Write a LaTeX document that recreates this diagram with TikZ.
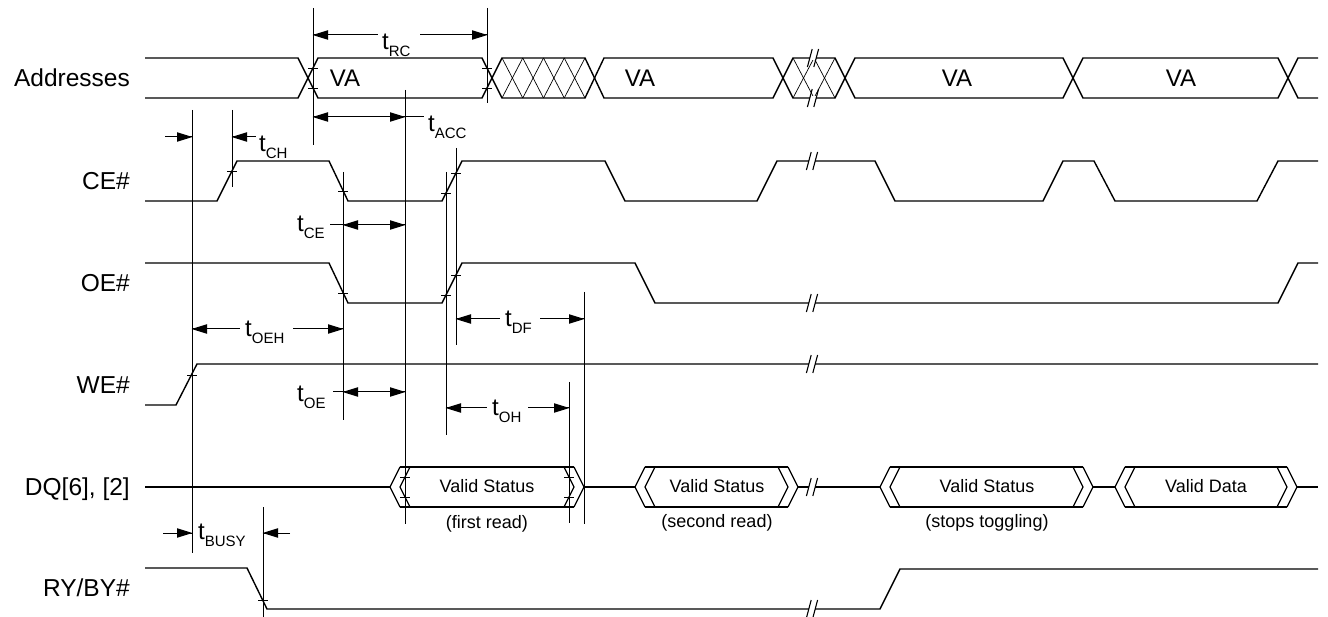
\documentclass[tikz,border=0pt]{standalone}
\usepackage{fontspec}
\setmainfont{Liberation Sans}
\newcommand{\tsb}[1]{{\fontsize{24}{26}\selectfont t}\raisebox{-7pt}{\fontsize{15}{16}\selectfont #1}}
\newcommand{\brk}[2]{%
  \fill[white] ({#1-3},{#2-2.4}) rectangle ({#1+3},{#2+2.4});
  \draw[line width=1.1pt] ({#1-5.6},{#2+9}) -- ({#1-0.8},{#2-9});
  \draw[line width=1.1pt] ({#1+0.8},{#2+9}) -- ({#1+5.6},{#2-9});}
\newcommand{\tk}[2]{\draw[line width=0.8pt] ({#1-5},#2) -- ({#1+5},#2);}
\newcommand{\ahr}[2]{\fill[black] ({#1+0.4},#2) -- ({#1-15},{#2-4.8}) -- ({#1-15},{#2+4.8}) -- cycle;}
\newcommand{\ahl}[2]{\fill[black] ({#1-0.4},#2) -- ({#1+15},{#2-4.8}) -- ({#1+15},{#2+4.8}) -- cycle;}
\newcommand{\dqbox}[2]{%
  \draw[bx] ({#1+10},467) -- (#1,487) -- ({#1+10},507);
  \draw[bx] ({#1+20},467) -- ({#1+10},487) -- ({#1+20},507);
  \draw[bx] ({#1+10},467) -- ({#2-10},467);
  \draw[bx] ({#1+10},507) -- ({#2-10},507);
  \draw[bx] ({#2-20},467) -- ({#2-10},487) -- ({#2-20},507);
  \draw[bx] ({#2-10},467) -- (#2,487) -- ({#2-10},507);}
\begin{document}
\begin{tikzpicture}[x=1pt,y=-1pt,
  sig/.style={line width=1.4pt, line join=miter},
  bx/.style={line width=1.2pt, line join=miter},
  hatch/.style={line width=0.7pt},
  vl/.style={line width=0.9pt},
  dimline/.style={line width=1pt},
  lbl/.style={font=\fontsize{24.5}{26}\selectfont, anchor=base east, inner sep=0pt},
  va/.style={font=\fontsize{24}{26}\selectfont, anchor=base, inner sep=0pt},
  vs/.style={font=\fontsize{18}{20}\selectfont, anchor=base, inner sep=0pt},
  tl/.style={anchor=base west, inner sep=0pt}]
\useasboundingbox (0,0) rectangle (1328,617);

% ---------- signal names ----------
\node[lbl] (lAddr) at (130,86.6) {Addresses};
\node[lbl] (lCE) at (130,189.6) {CE\#};
\node[lbl] (lOE) at (130,291.6) {OE\#};
\node[lbl] (lWE) at (130,393.6) {WE\#};
\node[lbl] (lDQ) at (130,495.6) {DQ[6], [2]};
\node[lbl] (lRY) at (130,596.6) {RY/BY\#};

% ---------- Addresses ----------
\draw[sig] (145,58) -- (298,58) -- (318,98) -- (482,98) -- (502,58) -- (585,58) -- (604,98)
  -- (773,98) -- (793,58) -- (835,58) -- (855,98) -- (1063,98) -- (1083,58) -- (1278,58)
  -- (1298,98) -- (1318,98);
\draw[sig] (145,98) -- (298,98) -- (318,58) -- (482,58) -- (502,98) -- (585,98) -- (604,58)
  -- (773,58) -- (793,98) -- (835,98) -- (855,58) -- (1063,58) -- (1083,98) -- (1278,98)
  -- (1298,58) -- (1318,58);
\foreach \k in {0,1,2,3} {
  \draw[hatch] ({502+20.75*\k},58) -- ({502+20.75*(\k+1)},98);
  \draw[hatch] ({502+20.75*\k},98) -- ({502+20.75*(\k+1)},58);
}
\foreach \k in {0,1} {
  \draw[hatch] ({793+21*\k},58) -- ({793+21*(\k+1)},98);
  \draw[hatch] ({793+21*\k},98) -- ({793+21*(\k+1)},58);
}
\brk{813}{58}
\brk{813}{98}
\node[va] (va1) at (345,86.6) {VA};
\node[va] (va2) at (640,86.6) {VA};
\node[va] (va3) at (957,86.6) {VA};
\node[va] (va4) at (1181,86.6) {VA};

% ---------- CE# ----------
\draw[sig] (145,201) -- (217,201) -- (237,161) -- (329,161) -- (348,201) -- (442,201) -- (462,161)
  -- (605,161) -- (625,201) -- (757,201) -- (777,161) -- (875,161) -- (895,201) -- (1043,201)
  -- (1063,161) -- (1094,161) -- (1115,201) -- (1257,201) -- (1278,161) -- (1318,161);
\brk{812}{161}

% ---------- OE# ----------
\draw[sig] (145,263) -- (329,263) -- (348,303) -- (442,303) -- (462,263) -- (635,263) -- (655,303)
  -- (1278,303) -- (1298,263) -- (1318,263);
\brk{812}{303}

% ---------- WE# ----------
\draw[sig] (145,405) -- (176,405) -- (197,364) -- (1318,364);
\brk{812}{364}

% ---------- DQ[6],[2] ----------
\draw[sig] (145,487) -- (390,487);
\dqbox{390}{584}
\draw[sig] (584,487) -- (635,487);
\dqbox{635}{798}
\draw[sig] (798,487) -- (880,487);
\dqbox{880}{1093}
\draw[sig] (1093,487) -- (1115,487);
\dqbox{1115}{1297}
\draw[sig] (1297,487) -- (1318,487);
\brk{812}{487}
\node[vs] (vs1) at (487,492.5) {Valid Status};
\node[vs] (vs2) at (717,492.5) {Valid Status};
\node[vs] (vs3) at (987,492.5) {Valid Status};
\node[vs] (vd4) at (1206,492.5) {Valid Data};
\node[vs] (n1) at (487,528) {(first read)};
\node[vs] (n2) at (717,527) {(second read)};
\node[vs] (n3) at (987,527) {(stops toggling)};

% ---------- RY/BY# ----------
\draw[sig] (145,568) -- (247,568) -- (267,609) -- (880,609) -- (900,569) -- (1318,569);
\brk{812}{609}

% ---------- reference lines ----------
\draw[vl] (192,110) -- (192,553);
\draw[vl] (232,110) -- (232,187);
\draw[vl] (313,8) -- (313,145);
\draw[vl] (487,8) -- (487,103);
\draw[vl] (343,172) -- (343,420);
\draw[vl] (405,90) -- (405,524);
\draw[vl] (446,172) -- (446,435);
\draw[vl] (456,148) -- (456,345);
\draw[vl] (584,292) -- (584,524);
\draw[vl] (569,382) -- (569,523);
\draw[vl] (263,507) -- (263,617);

% ---------- ticks ----------
\tk{313}{68} \tk{313}{88}
\tk{487}{68} \tk{487}{88}
\tk{232}{171}
\tk{343}{191} \tk{343}{293}
\tk{446}{193} \tk{446}{295}
\tk{456}{173} \tk{456}{275}
\tk{192}{375}
\tk{405}{477} \tk{405}{497}
\tk{569}{477} \tk{569}{497}
\tk{263}{600}

% ---------- timing parameters ----------
\draw[dimline] (313,35) -- (378,35); \ahl{313}{35}
\draw[dimline] (420,35) -- (487,35); \ahr{487}{35}
\node[tl] (tRC) at (382,50) {\tsb{RC}};

\draw[dimline] (313,117) -- (424,117); \ahl{313}{117} \ahr{405}{117}
\node[tl] (tACC) at (428,132) {\tsb{ACC}};

\draw[dimline] (165,137) -- (192,137); \ahr{192}{137}
\draw[dimline] (232,137) -- (256,137); \ahl{232}{137}
\node[tl] (tCH) at (259,152) {\tsb{CH}};

\node[tl] (tCE) at (297,232) {\tsb{CE}};
\draw[dimline] (330,225) -- (405,225); \ahl{343}{225} \ahr{405}{225}

\node[tl] (tOE) at (297,402) {\tsb{OE}};
\draw[dimline] (333,392) -- (405,392); \ahl{343}{392} \ahr{405}{392}

\draw[dimline] (192,329) -- (240,329); \ahl{192}{329}
\node[tl] (tOEH) at (245,337) {\tsb{OEH}};
\draw[dimline] (293,329) -- (343,329); \ahr{343}{329}

\draw[dimline] (456,319) -- (500,319); \ahl{456}{319}
\node[tl] (tDF) at (505,327) {\tsb{DF}};
\draw[dimline] (540,319) -- (584,319); \ahr{584}{319}

\draw[dimline] (446,408) -- (487,408); \ahl{446}{408}
\node[tl] (tOH) at (492,415) {\tsb{OH}};
\draw[dimline] (528,408) -- (569,408); \ahr{569}{408}

\draw[dimline] (163,533) -- (192,533); \ahr{192}{533}
\node[tl] (tBUSY) at (198,539) {\tsb{BUSY}};
\draw[dimline] (290,533) -- (263,533); \ahl{263}{533}
\end{tikzpicture}
\end{document}
